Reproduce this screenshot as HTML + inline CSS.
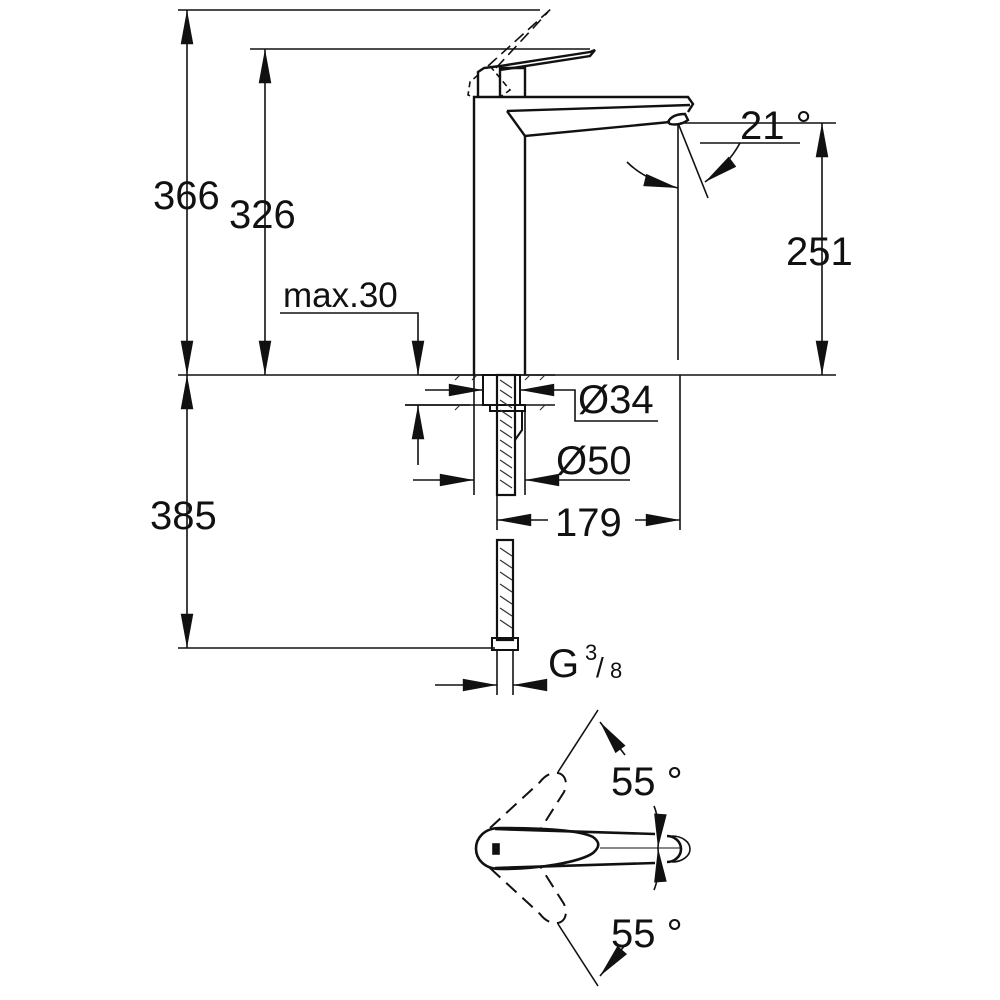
<!DOCTYPE html>
<html><head><style>html,body{margin:0;padding:0;background:#fff}svg{display:block}
text{font-family:"Liberation Sans",sans-serif;fill:#111}</style></head><body>
<svg width="1000" height="1000" viewBox="0 0 1000 1000" xmlns="http://www.w3.org/2000/svg">
<defs>
<marker id="a" viewBox="0 0 10 10" refX="10" refY="5" markerWidth="9" markerHeight="9" markerUnits="userSpaceOnUse" orient="auto-start-reverse" style="overflow:visible"><path d="M-28,-2 L10,5 L-28,12 z" fill="#111"/></marker>
</defs>
<g stroke="#111" stroke-width="1.6" fill="none">
<line x1="178" y1="10" x2="540" y2="10"/>
<line x1="250" y1="49" x2="590" y2="49"/>
<line x1="178" y1="375" x2="836" y2="375"/>
<line x1="178" y1="648" x2="495" y2="648"/>
<line x1="187" y1="10" x2="187" y2="375" marker-start="url(#a)" marker-end="url(#a)"/>
<line x1="265" y1="49" x2="265" y2="375" marker-start="url(#a)" marker-end="url(#a)"/>
<line x1="187" y1="375" x2="187" y2="648" marker-start="url(#a)" marker-end="url(#a)"/>
<polyline points="280,313 418,313 418,375" marker-end="url(#a)"/>
<line x1="405" y1="405" x2="470" y2="405"/>
<line x1="418" y1="465" x2="418" y2="405" marker-end="url(#a)"/>
<line x1="822" y1="123" x2="822" y2="375" marker-start="url(#a)" marker-end="url(#a)"/>
<line x1="680" y1="123" x2="836" y2="123"/>
<line x1="678" y1="123" x2="678" y2="360"/>
<line x1="678" y1="123" x2="708" y2="198"/>
<line x1="700" y1="143" x2="800" y2="143"/>
<path d="M627,162 Q645,180 678,188" marker-end="url(#a)"/>
<path d="M740,143 Q728,165 705,182" marker-end="url(#a)"/>
<g stroke-width="2.4">
<path d="M474,375 L474,97 L688,97 L693,104 L688,112"/>
<line x1="525" y1="136" x2="525" y2="375"/>
<path d="M507,111 L690,105"/>
<path d="M507,111 L525,136 L670,122"/>
<path d="M668,122 Q672,114 685,114 L688,120 Q680,126 670,124z"/>
<path d="M500,97 L500,68 L525,68 L525,97"/>
<path d="M478,97 L478,72 L484,68 L500,66 L590,52 L595,50 L590,56 L500,70"/>
</g>
<path d="M478,75 L470,82 L468,95 L474,97" stroke-dasharray="6,4"/>
<path d="M490,66 L510,90 L500,97" stroke-dasharray="6,4"/>
<path d="M488,66 L552,8 M496,68 L548,12" stroke-dasharray="12,6"/>
<line x1="420" y1="375" x2="555" y2="375"/>
<line x1="405" y1="405" x2="555" y2="405"/>
<rect x="483" y="375" width="37" height="30" stroke-width="2"/>
<rect x="490" y="405" width="35" height="6" stroke-width="2"/>
<rect x="497" y="375" width="18" height="120" stroke-width="2.2"/>
<path d="M515,411 L522,411 L522,430 L515,440" stroke-width="2"/>
<g stroke-width="1.2" stroke="#333">
<path d="M500,380 l12,8 M500,390 l12,8 M500,400 l12,8 M500,410 l12,8 M500,420 l12,8 M500,430 l12,8 M500,440 l12,8 M500,450 l12,8 M500,460 l12,8 M500,470 l12,8 M500,480 l12,8"/>
<path d="M500,548 l12,8 M500,560 l12,8 M500,572 l12,8 M500,584 l12,8 M500,596 l12,8 M500,608 l12,8 M500,620 l12,8"/>
<path d="M455,380 l5,-5 M472,380 l5,-5 M455,410 l5,-5 M525,380 l5,-5 M540,380 l5,-5 M540,410 l5,-5"/>
</g>
<line x1="425" y1="390" x2="483" y2="390" marker-end="url(#a)"/>
<line x1="555" y1="390" x2="520" y2="390" marker-end="url(#a)"/>
<polyline points="555,390 575,390 575,421 658,421"/>
<line x1="474" y1="375" x2="474" y2="495"/>
<line x1="525" y1="405" x2="525" y2="495"/>
<line x1="413" y1="480" x2="474" y2="480" marker-end="url(#a)"/>
<line x1="630" y1="480" x2="525" y2="480" marker-end="url(#a)"/>
<line x1="497" y1="495" x2="497" y2="530"/>
<line x1="680" y1="375" x2="680" y2="530"/>
<line x1="548" y1="520" x2="497" y2="520" marker-end="url(#a)"/>
<line x1="635" y1="520" x2="680" y2="520" marker-end="url(#a)"/>
<rect x="497" y="540" width="16" height="100" stroke-width="2.2"/>
<rect x="492" y="638" width="26" height="12" stroke-width="2"/>
<line x1="497" y1="650" x2="497" y2="695"/>
<line x1="513" y1="650" x2="513" y2="695"/>
<line x1="435" y1="685" x2="497" y2="685" marker-end="url(#a)"/>
<line x1="545" y1="685" x2="513" y2="685" marker-end="url(#a)"/>
<g stroke-width="2.6">
<path d="M495,829 L655,834 M495,868 L655,863"/>
<path d="M500,828 C468,828 468,869 500,869 C540,869 580,862 593,853 C600,847 600,842 593,837 C580,830 540,828 500,828z"/>
<path d="M667,836 A14,13 0 0 1 667,862"/>
<path d="M672,836 A18,13 0 0 1 672,862" stroke-width="1.6"/>
</g>
<rect x="493" y="844" width="6" height="10" fill="#111"/>
<line x1="600" y1="848" x2="680" y2="848" stroke-width="1"/>
<path d="M490,828 L540,782 C552,766 572,772 564,792 L540,830" stroke-dasharray="14,8" stroke-width="2"/>
<path d="M490,868 L540,914 C552,930 572,924 564,904 L540,866" stroke-dasharray="14,8" stroke-width="2"/>
<line x1="558" y1="772" x2="598" y2="710"/>
<line x1="558" y1="924" x2="598" y2="986"/>
<path d="M625,755 Q612,738 600,722" marker-end="url(#a)"/>
<path d="M625,945 Q612,962 600,976" marker-end="url(#a)"/>
<path d="M654,806 Q660,820 658,848" marker-end="url(#a)"/>
<path d="M654,890 Q660,876 658,848" marker-end="url(#a)"/>
</g>
<g font-size="40">
<text x="153" y="209">366</text>
<text x="229" y="228">326</text>
<text x="283" y="307" font-size="35">max.30</text>
<text x="740" y="139">21 °</text>
<text x="786" y="265">251</text>
<text x="578" y="413">Ø34</text>
<text x="556" y="474">Ø50</text>
<text x="555" y="536">179</text>
<text x="150" y="529">385</text>
<text x="548" y="677">G</text>
<text x="585" y="660" font-size="22">3</text>
<text x="596" y="677" font-size="28">/</text>
<text x="610" y="678" font-size="22">8</text>
<text x="611" y="795">55 °</text>
<text x="611" y="947">55 °</text>
</g>
</svg>
</body></html>
